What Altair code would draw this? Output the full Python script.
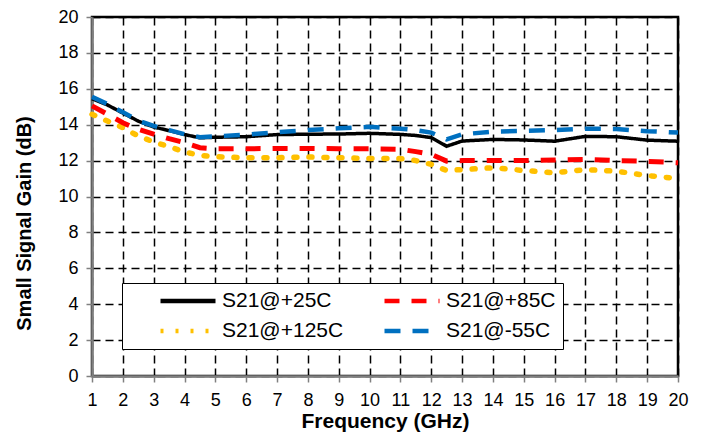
import altair as alt
import pandas as pd

# Frequency sweep points (GHz)
freq = [1, 1.5, 2, 2.5, 3, 3.5, 4, 4.5, 5, 6, 7, 8, 9, 10, 11, 11.5, 12, 12.5,
        13, 14, 15, 16, 17, 18, 19, 20]

# Small-signal gain S21 (dB) at each temperature
gain_p25 = [15.45, 15.10, 14.65, 14.20, 13.87, 13.67, 13.45, 13.27, 13.30, 13.33,
            13.45, 13.47, 13.48, 13.52, 13.46, 13.40, 13.28, 12.80, 13.09, 13.18,
            13.15, 13.08, 13.35, 13.33, 13.14, 13.08]
gain_p85 = [15.05, 14.58, 14.11, 13.74, 13.47, 13.22, 13.00, 12.72, 12.66, 12.66,
            12.68, 12.68, 12.66, 12.66, 12.63, 12.50, 12.35, 11.97, 12.00, 12.00,
            12.00, 12.03, 12.07, 12.00, 11.96, 11.88]
gain_p125 = [14.58, 14.20, 13.84, 13.37, 13.04, 12.78, 12.48, 12.29, 12.22, 12.16,
             12.16, 12.20, 12.16, 12.12, 12.11, 12.00, 11.79, 11.45, 11.50, 11.60,
             11.45, 11.32, 11.50, 11.41, 11.17, 11.00]
gain_m55 = [15.55, 15.15, 14.70, 14.22, 13.93, 13.70, 13.47, 13.30, 13.35, 13.45,
            13.58, 13.70, 13.80, 13.88, 13.78, 13.70, 13.56, 13.18, 13.46, 13.62,
            13.65, 13.70, 13.78, 13.76, 13.64, 13.56]

series_names = ["S21@+25C", "S21@+85C", "S21@+125C", "S21@-55C"]
series_colors = ["#000000", "#FF0000", "#FFC000", "#0070C0"]
series_dashes = [[1, 0], [15, 12], [3, 12], [16, 12]]
series_widths = [3.5, 5, 5.5, 4.5]
series_caps = ["butt", "butt", "round", "butt"]

x_ticks = list(range(1, 21))
y_ticks = list(range(0, 21, 2))

frames = []
for name, vals in zip(series_names, [gain_p25, gain_p85, gain_p125, gain_m55]):
    frames.append(pd.DataFrame({"freq": freq, "gain": vals, "series": name}))
df = pd.concat(frames, ignore_index=True)

FONT = "Liberation Sans"

legend = alt.Legend(
    orient="none", legendX=30, legendY=266, direction="horizontal",
    columns=2, gridAlign="all", columnPadding=38, rowPadding=8,
    symbolType="stroke", symbolSize=3025, symbolStrokeWidth=4.5,
    labelFont=FONT, labelFontSize=21, labelColor="black", labelOffset=4,
    clipHeight=22, padding=7,
    strokeColor="black", fillColor="white",
    title=" ", titleOrient="left", titlePadding=29, titleFontSize=1,
)

base = alt.Chart(df).encode(
    x=alt.X(
        "freq:Q",
        scale=alt.Scale(domain=[1, 20], nice=False, zero=False),
        axis=alt.Axis(values=x_ticks, title="Frequency (GHz)", titleY=45,
                      titleBaseline="middle", titleFontSize=21,
                      labelFlush=False, labelOverlap=False, labelPadding=9),
    ),
    y=alt.Y(
        "gain:Q",
        scale=alt.Scale(domain=[0, 20], nice=False),
        axis=alt.Axis(values=y_ticks, title="Small Signal Gain (dB)",
                      titleX=-68, titleY=206, titleBaseline="middle",
                      titleFontSize=20, labelFlush=False, labelPadding=8),
    ),
    color=alt.Color("series:N",
                    scale=alt.Scale(domain=series_names, range=series_colors),
                    legend=legend),
    strokeDash=alt.StrokeDash("series:N",
                              scale=alt.Scale(domain=series_names, range=series_dashes),
                              legend=legend),
)

draw_order = [0, 2, 1, 3]
layers = []
for i in draw_order:
    layers.append(
        base.transform_filter(alt.datum.series == series_names[i]).mark_line(
            strokeWidth=series_widths[i], strokeCap=series_caps[i]
        )
    )

chart = alt.layer(*layers).properties(
    width=586, height=359,
    autosize=alt.AutoSizeParams(type="none"),
    padding={"left": 92, "top": 17, "right": 27, "bottom": 56},
).configure_view(
    stroke="black", strokeWidth=2.5
).configure_axis(
    domainColor="#808080", domainWidth=2.5,
    tickColor="#808080", tickSize=6, tickWidth=1.5,
    labelFont=FONT, labelFontSize=18, labelColor="black",
    titleFont=FONT, titleFontWeight="bold", titleColor="black",
    grid=True, gridColor="black", gridDash=[8, 5], gridWidth=1.5, gridOpacity=1,
)

chart.save("out.html", embed_options={"renderer": "svg", "actions": False})
